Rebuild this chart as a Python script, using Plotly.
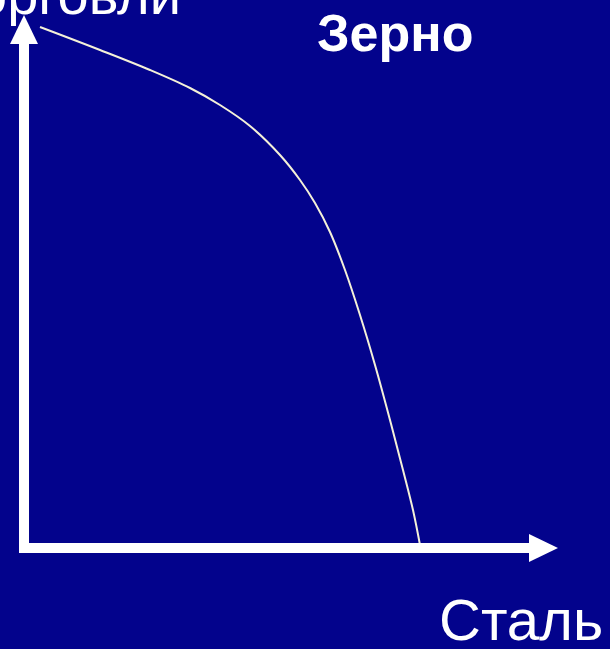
import plotly.graph_objects as go

# Production possibility curve (units: steel on x, grain on y)
steel = [16, 76, 126, 166, 196, 226, 256, 276, 291, 306, 321, 336, 351, 366, 379, 389, 396]
grain = [521, 498, 478, 460, 443, 422, 393, 368, 345, 316, 278, 233, 183, 128, 78, 38, 3]

x_label = "Сталь"
y_label = "Зерно"
top_label = "торговли"

X_MIN, X_MAX = -24, 586
Y_MIN, Y_MAX = -101, 548
X_ARROW_TIP = 534
Y_ARROW_TIP = 533
HEAD_LEN = 29
HEAD_HALF = 14
SHAFT_W = 10

BG = "#03038c"
WHITE = "#ffffff"
CURVE = "#f4f1d8"
FONT = "Liberation Sans, Arial, sans-serif"

fig = go.Figure()
fig.add_trace(go.Scatter(
    x=steel, y=grain, mode="lines",
    line=dict(color=CURVE, width=2, shape="spline", smoothing=1.0),
    hoverinfo="skip", showlegend=False,
))

shapes = [
    dict(type="line", xref="x", yref="y", x0=0, y0=-5, x1=0, y1=Y_ARROW_TIP - HEAD_LEN + 2,
         line=dict(color=WHITE, width=SHAFT_W)),
    dict(type="line", xref="x", yref="y", x0=-5, y0=0, x1=X_ARROW_TIP - HEAD_LEN + 2, y1=0,
         line=dict(color=WHITE, width=SHAFT_W)),
    dict(type="path", xref="x", yref="y",
         path=f"M {-HEAD_HALF},{Y_ARROW_TIP - HEAD_LEN} L {HEAD_HALF},{Y_ARROW_TIP - HEAD_LEN} L 0,{Y_ARROW_TIP} Z",
         fillcolor=WHITE, line=dict(color=WHITE, width=0)),
    dict(type="path", xref="x", yref="y",
         path=f"M {X_ARROW_TIP - HEAD_LEN},{-HEAD_HALF} L {X_ARROW_TIP - HEAD_LEN},{HEAD_HALF} L {X_ARROW_TIP},0 Z",
         fillcolor=WHITE, line=dict(color=WHITE, width=0)),
]

annotations = [
    dict(x=371, y=515.5, xref="x", yref="y", text=f"<b>{y_label}</b>", showarrow=False,
         xanchor="center", yanchor="middle", font=dict(family=FONT, size=52, color=WHITE)),
    dict(x=581, y=-71.5, xref="x", yref="y", text=x_label, showarrow=False,
         xanchor="right", yanchor="middle", font=dict(family=FONT, size=58, color=WHITE)),
    dict(x=183 / 610, y=(649 + 6) / 649, xref="paper", yref="paper", text=top_label, showarrow=False,
         xanchor="right", yanchor="middle", font=dict(family=FONT, size=56, color=WHITE)),
]

fig.update_layout(
    width=610, height=649,
    margin=dict(l=0, r=0, t=0, b=0),
    paper_bgcolor=BG, plot_bgcolor=BG,
    xaxis=dict(range=[X_MIN, X_MAX], visible=False, fixedrange=True),
    yaxis=dict(range=[Y_MIN, Y_MAX], visible=False, fixedrange=True),
    shapes=shapes, annotations=annotations,
    showlegend=False,
)

fig.write_html(
    "out.html",
    config={"displayModeBar": False},
    post_script="document.body.style.margin='0';document.body.style.overflow='hidden';",
)
